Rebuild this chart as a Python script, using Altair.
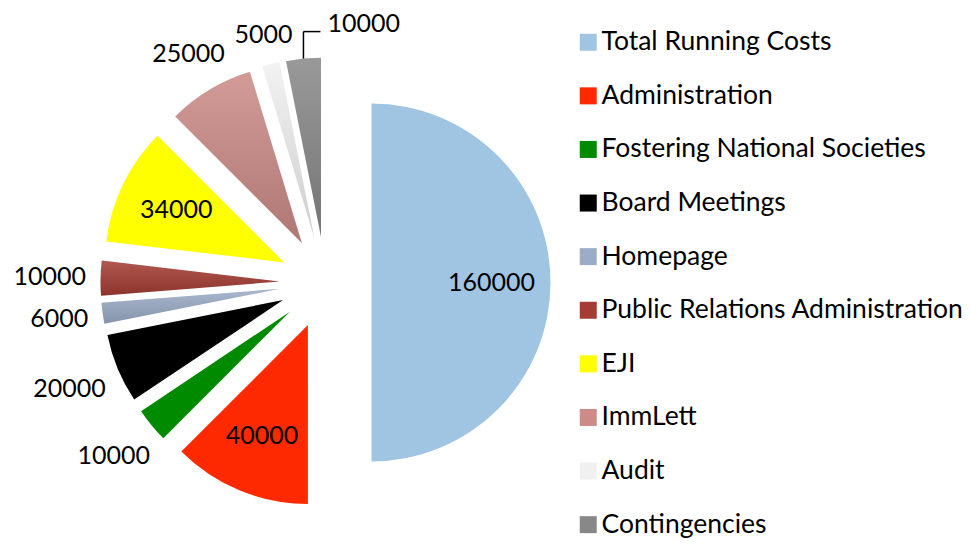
import math
import pandas as pd
import altair as alt

# ---- data ----
categories = [
    "Total Running Costs", "Administration", "Fostering National Societies",
    "Board Meetings", "Homepage", "Public Relations Administration",
    "EJI", "ImmLett", "Audit", "Contingencies",
]
values = [160000, 40000, 10000, 20000, 6000, 10000, 34000, 25000, 5000, 10000]

# ---- style ----
colors = ["#A0C5E3", "#FF2900", "#008A00", "#000000", "#9CACC7",
          "#A43C33", "#FFFF00", "#CC8B87", "#F0F0F0", "#888888"]
shaded = ["Homepage", "Public Relations Administration", "ImmLett", "Audit", "Contingencies"]
leader_for = "Contingencies"

W, H = 955, 532
CX, CY = 317.5, 274.5      # pie centre in px
R_PX = 179                 # pie radius
D_PX = 46                  # explosion distance
IN_R = 0.67                # inside label radius (pie radii from slice apex)
GAP = 10.5                 # gap between slice edge and outside label box
FONT = "Lato"
FS = 25                    # data label font size
LFS = 26.5                 # legend font size
HALF_DIGIT = 0.64 * FS / 2
HALF_H = 12

df = pd.DataFrame({"idx": list(range(len(categories))), "cat": categories, "value": values})

xs = alt.Scale(domain=[-CX / R_PX, (W - CX) / R_PX], nice=False, zero=False)
ys = alt.Scale(domain=[-(H - CY) / R_PX, CY / R_PX], nice=False, zero=False)


def X(f):
    return alt.X(f"{f}:Q", scale=xs, axis=None, stack=None)


def Y(f):
    return alt.Y(f"{f}:Q", scale=ys, axis=None, stack=None)


e = D_PX / R_PX
base = (
    alt.Chart(df)
    .transform_window(cum="sum(value)", sort=[alt.SortField("idx")])
    .transform_joinaggregate(total="sum(value)")
    .transform_calculate(
        a1="datum.cum / datum.total",
        a0="(datum.cum - datum.value) / datum.total",
        nd="length(toString(datum.value))",
    )
    .transform_calculate(mid="PI * (datum.a0 + datum.a1)")
    .transform_calculate(
        ox=f"{e} * sin(datum.mid)",
        oy=f"{e} * cos(datum.mid)",
        lr=(
            f"datum.value / datum.total >= 0.1 ? {IN_R} : "
            f"1 + ({GAP} + datum.nd * {HALF_DIGIT} * abs(sin(datum.mid)) + "
            f"{HALF_H} * abs(cos(datum.mid))) / {R_PX}"
        ),
    )
    .transform_calculate(
        lx="datum.ox + datum.lr * sin(datum.mid)",
        ly="datum.oy + datum.lr * cos(datum.mid)",
        sx="datum.ox + sin(datum.mid)",
        sy="datum.oy + cos(datum.mid)",
    )
    .transform_calculate(
        cy_=f"datum.sy + {27 / R_PX}",
        ex=f"datum.sx + {17 / R_PX}",
    )
    .transform_calculate(
        tx=f"datum.ex + {7 / R_PX}",
        ty=f"datum.cy_ + {8 / R_PX}",
    )
)

theta = alt.Theta("a0:Q", scale=alt.Scale(domain=[0, 1], range=[0, 2 * math.pi]), stack=None)
theta2 = alt.Theta2("a1:Q")

arcs = base.mark_arc(radius=R_PX, strokeWidth=0).encode(
    x=X("ox"), y=Y("oy"), theta=theta, theta2=theta2,
    color=alt.Color(
        "cat:N",
        scale=alt.Scale(domain=categories, range=colors),
        legend=alt.Legend(
            orient="none", legendX=567, legendY=21, title=None,
            symbolType="square", symbolSize=289, symbolStrokeWidth=0,
            symbolOpacity=1, labelFont=FONT, labelFontSize=LFS,
            labelColor="black", rowPadding=26.6, labelOffset=0, labelLimit=600,
        ),
    ),
)

grad = alt.Gradient(
    gradient="linear", x1=0, y1=0, x2=0, y2=1,
    stops=[alt.GradientStop(color="rgba(255,255,255,0.14)", offset=0),
           alt.GradientStop(color="rgba(0,0,0,0.14)", offset=1)],
)
overlay = base.transform_filter(
    alt.FieldOneOfPredicate(field="cat", oneOf=shaded)
).mark_arc(radius=R_PX, fill=grad, strokeWidth=0).encode(
    x=X("ox"), y=Y("oy"), theta=theta, theta2=theta2,
)

labels = base.transform_filter(f"datum.cat != '{leader_for}'").mark_text(
    font=FONT, fontSize=FS, color="black", align="center", baseline="middle"
).encode(x=X("lx"), y=Y("ly"), text=alt.Text("value:Q", format="d"))

lead = base.transform_filter(f"datum.cat == '{leader_for}'")
lead_v = lead.mark_rule(color="black", strokeWidth=1.5).encode(
    x=X("sx"), y=Y("sy"), y2=alt.Y2("cy_:Q"))
lead_h = lead.mark_rule(color="black", strokeWidth=1.5).encode(
    x=X("sx"), x2=alt.X2("ex:Q"), y=Y("cy_"))
lead_t = lead.mark_text(
    font=FONT, fontSize=FS, color="black", align="left", baseline="middle"
).encode(x=X("tx"), y=Y("ty"), text=alt.Text("value:Q", format="d"))

chart = (
    alt.layer(arcs, overlay, labels, lead_v, lead_h, lead_t)
    .properties(width=W, height=H, padding=0, autosize=alt.AutoSizeParams(type="none"))
    .configure_view(stroke=None)
)

chart.save("out.html", embed_options={"renderer": "svg", "actions": False})
